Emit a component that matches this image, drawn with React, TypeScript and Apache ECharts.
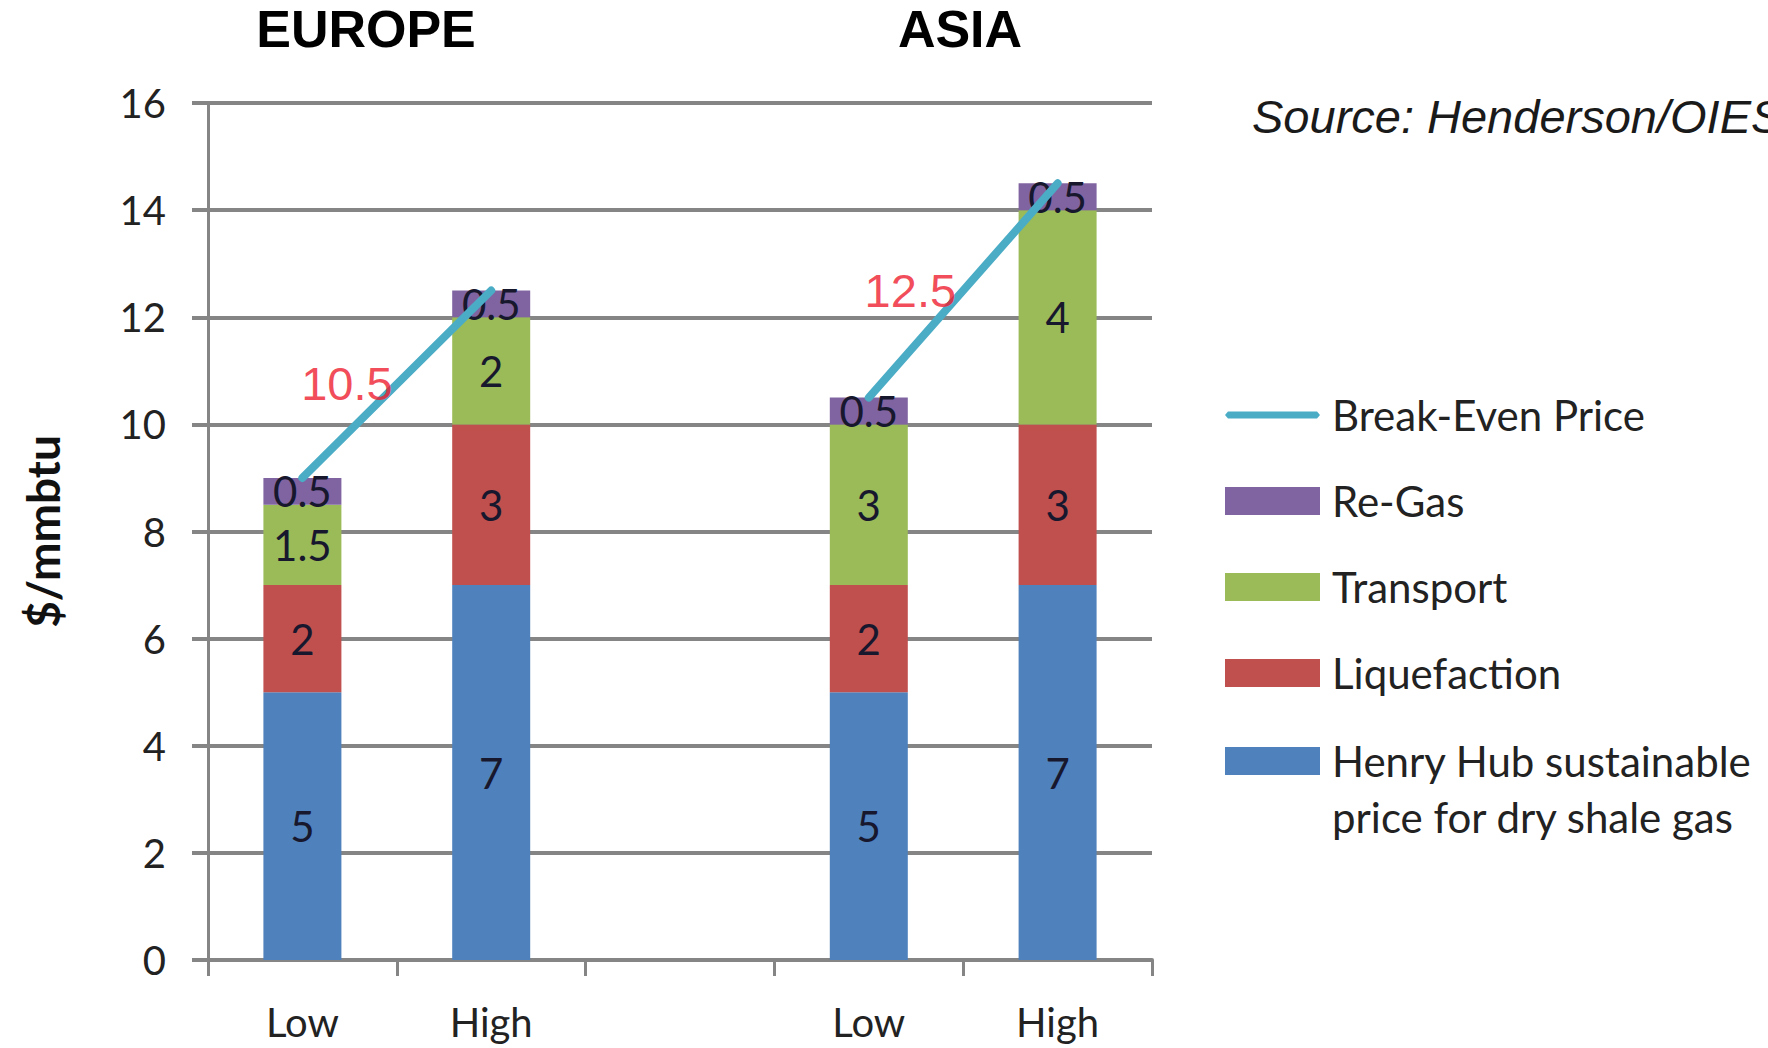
import React, { useEffect, useRef } from "react";
import * as echarts from "echarts";

const categories = ["Low", "High", "", "Low", "High"];
const henryHub = [5, 7, null, 5, 7];
const liquefaction = [2, 3, null, 2, 3];
const transport = [1.5, 2, null, 3, 4];
const reGas = [0.5, 0.5, null, 0.5, 0.5];
const breakEven = [9, 12.5, null, 10.5, 14.5];

const yMin = 0;
const yMax = 16;
const yInterval = 2;

const regionTitles = ["EUROPE", "ASIA"];
const noteTexts = ["10.5", "12.5"];
const noteX = [0.236, 3.22];
const noteY = [10.77, 12.5];

const sourceText = "Source: Henderson/OIES";

const HENRY = "Henry Hub sustainable\nprice for dry shale gas";

const COLORS = {
  henry: "#4F81BD",
  liq: "#C0504D",
  transport: "#9BBB59",
  regas: "#8064A2",
  line: "#4BACC6",
  grid: "#858585",
  note: "#EE1C2E",
};

const FONT = "Lato, 'Open Sans', sans-serif";
const ARIAL = "'Liberation Sans', Arial, sans-serif";

const LINE_ICON = "path://M0,0 M95,28 M3,10.5 L92,10.5 L95,14 L92,17.5 L3,17.5 L0,14 Z";

export default function App() {
  const ref = useRef<HTMLDivElement>(null);

  useEffect(() => {
    document.body.style.margin = "0";
    const chart = echarts.init(ref.current!, null, { renderer: "svg" });

    const barLabel = {
      show: true,
      position: "inside",
      fontFamily: FONT,
      fontSize: 42,
      color: "#17172d",
    };

    const barSeries = (name: string, data: any[], color: string) => ({
      name,
      type: "bar",
      stack: "cost",
      data,
      barWidth: 78,
      itemStyle: { color },
      label: barLabel,
      silent: true,
    });

    const legendText = {
      fontFamily: FONT,
      fontSize: 42,
      color: "#222",
      padding: [0, 0, 0, 7],
    };

    const option: any = {
      animation: false,
      backgroundColor: "#ffffff",
      grid: {
        left: 208,
        right: 616,
        top: 103,
        bottom: 88,
        containLabel: false,
        outerBoundsMode: "none",
      },
      xAxis: [
        {
          type: "category",
          data: categories,
          boundaryGap: true,
          axisLine: { show: true, lineStyle: { color: COLORS.grid, width: 4 } },
          axisTick: {
            show: true,
            interval: 0,
            alignWithLabel: false,
            length: 16,
            lineStyle: { color: COLORS.grid, width: 3 },
          },
          axisLabel: {
            interval: 0,
            margin: 42,
            fontFamily: FONT,
            fontSize: 40,
            color: "#222",
          },
        },
        {
          type: "value",
          min: -0.5,
          max: 4.5,
          show: false,
        },
      ],
      yAxis: {
        type: "value",
        min: yMin,
        max: yMax,
        interval: yInterval,
        name: "$/mmbtu",
        nameLocation: "middle",
        nameRotate: 90,
        nameGap: 143,
        nameTextStyle: {
          fontFamily: FONT,
          fontWeight: "bold",
          fontSize: 46,
          color: "#111",
        },
        axisLine: {
          show: true,
          onZero: false,
          lineStyle: { color: COLORS.grid, width: 3 },
        },
        axisTick: { show: true, length: 16, lineStyle: { color: COLORS.grid, width: 4 } },
        splitLine: { show: true, lineStyle: { color: COLORS.grid, width: 4 } },
        axisLabel: {
          margin: 42,
          fontFamily: FONT,
          fontSize: 40,
          color: "#222",
        },
      },
      legend: [
        {
          orient: "vertical",
          left: 1225,
          top: 390,
          padding: 0,
          itemWidth: 95,
          itemHeight: 28,
          itemGap: 36,
          selectedMode: false,
          textStyle: { ...legendText, lineHeight: 50 },
          data: [
            { name: "Break-Even Price", icon: LINE_ICON },
            { name: "Re-Gas", icon: "rect" },
            { name: "Transport", icon: "rect" },
            { name: "Liquefaction", icon: "rect" },
          ],
        },
        {
          orient: "vertical",
          left: 1225,
          top: 677,
          padding: 0,
          itemWidth: 95,
          itemHeight: 28,
          selectedMode: false,
          formatter: (name: string) => " \n" + name,
          textStyle: { ...legendText, lineHeight: 56 },
          data: [{ name: HENRY, icon: "rect" }],
        },
      ],
      graphic: [
        {
          type: "text",
          x: 366,
          y: 29,
          style: {
            text: regionTitles[0],
            align: "center",
            verticalAlign: "middle",
            fontFamily: ARIAL,
            fontWeight: "bold",
            fontSize: 52,
            fill: "#000",
          },
        },
        {
          type: "text",
          x: 960,
          y: 29,
          style: {
            text: regionTitles[1],
            align: "center",
            verticalAlign: "middle",
            fontFamily: ARIAL,
            fontWeight: "bold",
            fontSize: 52,
            fill: "#000",
          },
        },
        {
          type: "text",
          x: 1252,
          y: 116,
          style: {
            text: sourceText,
            align: "left",
            verticalAlign: "middle",
            fontFamily: ARIAL,
            fontStyle: "italic",
            fontSize: 47,
            fill: "#1a1a1a",
          },
        },
      ],
      series: [
        barSeries(HENRY, henryHub, COLORS.henry),
        barSeries("Liquefaction", liquefaction, COLORS.liq),
        barSeries("Transport", transport, COLORS.transport),
        barSeries("Re-Gas", reGas, COLORS.regas),
        {
          name: "Break-Even Price",
          type: "line",
          data: breakEven,
          connectNulls: false,
          symbol: "none",
          z: 5,
          lineStyle: { color: COLORS.line, width: 8, cap: "round" },
          itemStyle: { color: COLORS.line },
          silent: true,
        },
        {
          name: "notes",
          type: "scatter",
          xAxisIndex: 1,
          yAxisIndex: 0,
          symbolSize: 1,
          itemStyle: { color: "rgba(0,0,0,0)" },
          silent: true,
          z: 6,
          data: noteX.map((x, i) => [x, noteY[i]]),
          label: {
            show: true,
            position: "inside",
            formatter: (p: any) => noteTexts[p.dataIndex],
            fontFamily: ARIAL,
            fontSize: 47,
            color: COLORS.note,
          },
        },
      ],
    };

    chart.setOption(option);
    return () => chart.dispose();
  }, []);

  return <div ref={ref} style={{ width: 1768, height: 1048 }} />;
}
